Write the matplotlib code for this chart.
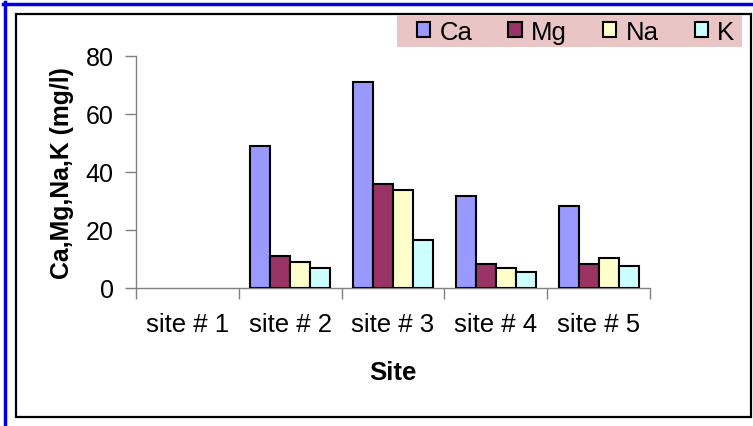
import numpy as np
import matplotlib
matplotlib.use('Agg')
import matplotlib.pyplot as plt
from matplotlib.patches import Rectangle
from matplotlib.lines import Line2D

sites = ['site # 1', 'site # 2', 'site # 3', 'site # 4', 'site # 5']
ions = ['Ca', 'Mg', 'Na', 'K']
ca = [0, 49.1, 71.1, 31.8, 28.2]
mg = [0, 11.1, 35.9, 8.3, 8.3]
na = [0, 9.1, 33.8, 6.9, 10.4]
k = [0, 6.9, 16.6, 5.6, 7.7]
colors = ['#9999FF', '#993366', '#FFFFCC', '#CCFFFF']

plt.rcParams['font.family'] = ['Liberation Sans', 'DejaVu Sans']

W, H = 753, 427
fig = plt.figure(figsize=(W / 100, H / 100), dpi=100)
fig.patch.set_facecolor('white')


def fx(px):
    return px / W


def fy(py):
    return 1 - py / H


# outer blue lines (top and left) and black frame
fig.add_artist(Line2D([fx(3), 1], [fy(4.5), fy(4.5)], color='#0000EE', lw=2.5,
                      transform=fig.transFigure))
fig.add_artist(Line2D([fx(4.5), fx(4.5)], [fy(3), 0], color='#0000EE', lw=2.5,
                      transform=fig.transFigure))
fig.add_artist(Rectangle((fx(16), fy(418)), fx(751) - fx(16), fy(15) - fy(418),
                         fill=False, edgecolor='black', lw=1.6,
                         transform=fig.transFigure))
# pink legend background
fig.add_artist(Rectangle((fx(397), fy(48)), fx(742) - fx(397), fy(16) - fy(48),
                         facecolor='#E9C5C5', edgecolor='none',
                         transform=fig.transFigure))

ax = fig.add_axes([fx(136), fy(289), fx(650) - fx(136), fy(57) - fy(289)])

x = np.arange(len(sites))
width = 0.195
series = [ca, mg, na, k]
for i, vals in enumerate(series):
    bars = ax.bar(x + (i - 1.5) * width, vals, width, color=colors[i],
                  edgecolor='black', linewidth=1.5, zorder=3)
    for b, v in zip(bars, vals):
        if v == 0:
            b.set_visible(False)

ax.set_xlim(-0.5, len(sites) - 0.5)
ax.set_ylim(0, 80)
ax.set_yticks([0, 20, 40, 60, 80])
ax.set_xticks(x)
ax.set_xticklabels(sites)
ax.set_xticks(np.arange(-0.5, len(sites), 1), minor=True)
ax.tick_params(axis='x', which='major', length=0, pad=17, labelsize=18.5)
ax.tick_params(axis='x', which='minor', length=8, width=1, color='#808080')
ax.tick_params(axis='y', length=8, width=1, color='#808080', pad=8, labelsize=18)

for s in ['top', 'right']:
    ax.spines[s].set_visible(False)
for s in ['left', 'bottom']:
    ax.spines[s].set_color('#808080')
    ax.spines[s].set_linewidth(1)

ax.set_ylabel('Ca,Mg,Na,K (mg/l)', fontsize=17.8, fontweight='bold')
ax.yaxis.set_label_coords(-0.144, 0.5)
ax.set_xlabel('Site', fontsize=18.5, fontweight='bold')
ax.xaxis.set_label_coords(0.5, -0.362)
ax.xaxis.label.set_va('center')
ax.yaxis.label.set_va('center')

handles = [Rectangle((0, 0), 1, 1, facecolor=c, edgecolor='black', lw=1.5)
           for c in colors]
leg = fig.legend(handles, ions, ncol=4, loc='center left',
                 bbox_to_anchor=(fx(417), fy(33)), borderaxespad=0,
                 fontsize=18.5, frameon=False, handlelength=0.52,
                 handleheight=0.52, handletextpad=0.36, borderpad=0,
                 columnspacing=1.4)

fig.savefig('out.png', dpi=100)
